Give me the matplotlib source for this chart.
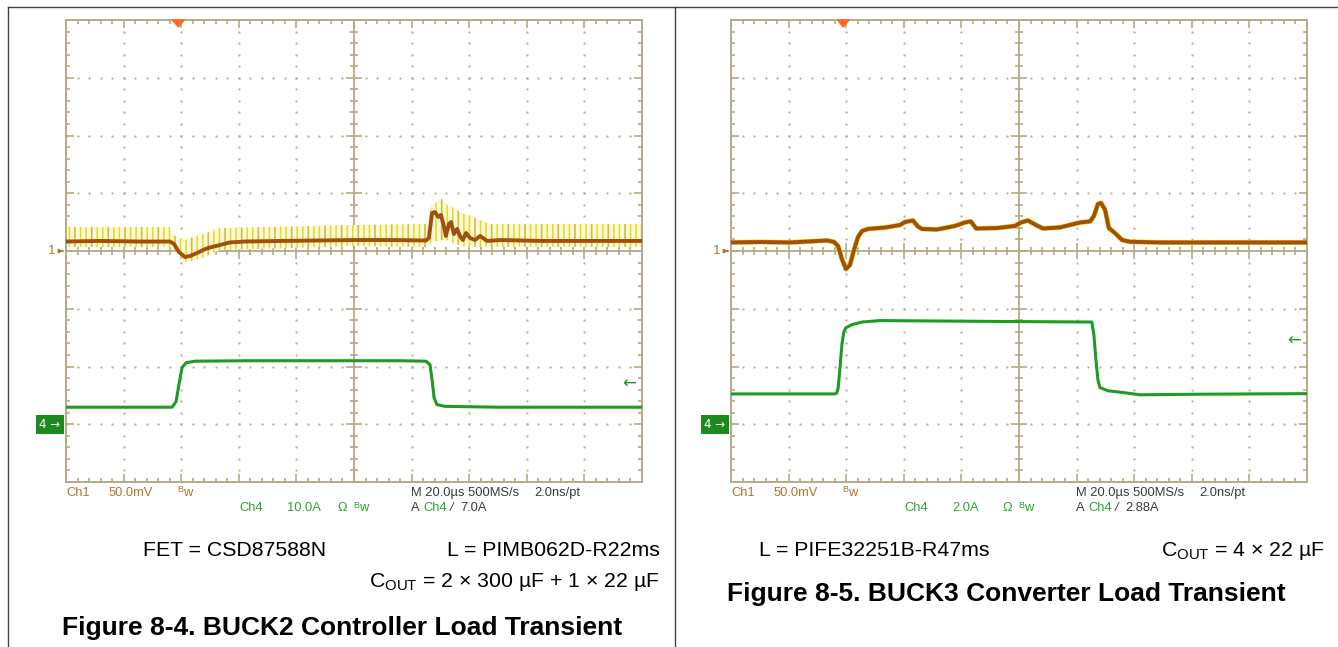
import matplotlib
matplotlib.use("Agg")
import matplotlib.pyplot as plt
from matplotlib.collections import LineCollection
from matplotlib.lines import Line2D
from matplotlib.patches import Polygon
import numpy as np

plt.rcParams['font.family'] = ['Liberation Sans', 'DejaVu Sans']
plt.rcParams['hatch.linewidth'] = 1.1

W, H = 1338, 647

# ---------------- data (time in µs from left screen edge, 20 µs/div) ----------------
# Figure 8-4, BUCK2: Ch1 output ripple (mV, relative to ch1 marker), Ch4 load current (A)
b2_ch1_t = [0, 11.8, 25.7, 36.1, 37.5, 39.2, 41.3, 43.1, 45.5, 48.3, 50.7, 53.5, 56.9,
            62.2, 74.3, 88.2, 100, 112.5, 125, 126, 127.1, 128.1, 129.2, 130.2, 131.2,
            131.9, 133, 133.7, 134.7, 135.8, 136.8, 137.8, 138.9, 140.3, 142, 143.8,
            146.2, 150.7, 164.6, 185.4, 200]
b2_ch1_mv = [8.2, 8.7, 8.2, 8.2, 6.1, -0.9, -5.2, -4.3, -1.7, 1.7, 3.5, 5.2, 7.4,
             8.2, 8.7, 9.1, 9.5, 9.5, 9.1, 11.3, 32.9, 33.8, 29.5, 31.2, 21.7,
             13.0, 23.4, 25.1, 14.7, 19.1, 13.0, 9.5, 15.6, 11.3, 9.5, 13.0,
             8.7, 9.5, 8.7, 8.7, 8.7]
# persistence (yellow) envelope of Ch1
b2_env_t = [0, 36.1, 37.8, 41.3, 46.5, 53.5, 100, 125, 127.1, 130.6, 132.3, 134,
            137.5, 142, 147.2, 200]
b2_env_hi = [20.8, 20.8, 13.0, 9.5, 13.9, 19.9, 22.5, 23.4, 39.9, 45.1, 39.9, 38.1,
             32.9, 28.6, 23.4, 23.4]
b2_env_lo = [3.5, 3.5, 0.9, -9.5, -6.9, 0.9, 4.3, 3.5, 7.8, 9.5, 9.5, 6.9,
             4.3, 3.5, 3.5, 3.5]
b2_ch4_t = [0, 36.8, 38.2, 39.2, 40.3, 41.7, 44.8, 63.9, 100, 116, 125, 126.4,
            127.1, 127.8, 128.8, 131.6, 150.7, 171.5, 200]
b2_ch4_a = [2.95, 2.95, 3.9, 6.85, 9.8, 10.66, 10.92, 11.0, 11.0, 11.0, 10.92, 10.3,
            7.7, 4.6, 3.4, 3.1, 2.95, 2.95, 2.95]

# Figure 8-5, BUCK3
b3_ch1_t = [0, 10.1, 20.5, 33.3, 35.8, 37.2, 38.5, 39.9, 41.3, 42.7, 44.1, 45.5,
            47.6, 53.8, 58.7, 60.4, 63.2, 64.9, 66.3, 71.5, 77.8, 81.2, 83.3, 85.1,
            92.4, 98.6, 100.7, 103.1, 105.9, 108.3, 114.2, 121.2, 124.7, 126, 127.4,
            128.5, 129.9, 131.2, 133.3, 135.8, 138.5, 148.9, 173.3, 200]
b3_ch1_mv = [7.4, 7.8, 7.4, 9.1, 7.8, 4.3, -6.9, -15.6, -12.1, 0.9, 12.1, 17.3,
             19.1, 20.4, 22.5, 25.1, 26.4, 21.2, 19.1, 18.6, 21.7, 24.7, 25.6, 19.5,
             19.9, 21.7, 24.7, 26.4, 22.5, 19.5, 20.4, 24.7, 25.6, 30.3, 40.7,
             41.6, 35.5, 19.9, 15.6, 9.5, 8.0, 7.4, 7.4, 7.4]
b3_ch4_t = [0, 36.0, 36.7, 37.2, 37.8, 38.5, 39.2, 39.9, 42.0, 45.5, 51.7, 93.4,
            125.3, 126.0, 126.7, 127.4, 128.1, 130.9, 136.8, 142.0, 162.8, 200]
b3_ch4_a = [1.05, 1.05, 1.08, 1.25, 1.89, 2.76, 3.21, 3.34, 3.45, 3.54, 3.59, 3.56,
            3.54, 3.10, 2.24, 1.54, 1.27, 1.16, 1.09, 1.02, 1.04, 1.06]

# scope settings text
b2_scale = {"ch1": "50.0mV", "ch4": "10.0A", "trig": "7.0A"}
b3_scale = {"ch1": "50.0mV", "ch4": "2.0A", "trig": "2.88A"}
b2_trig_level, b3_trig_level = 7.0, 2.88
trig_time = 39.0

b2_notes = ["FET = CSD87588N", "L = PIMB062D-R22ms",
            r"C$_\mathregular{OUT}$ = 2 × 300 µF + 1 × 22 µF",
            "Figure 8-4. BUCK2 Controller Load Transient"]
b3_notes = ["L = PIFE32251B-R47ms", r"C$_\mathregular{OUT}$ = 4 × 22 µF",
            "Figure 8-5. BUCK3 Converter Load Transient"]

# ---------------- styling ----------------
GRID = '#b3aa88'
CH1 = '#a0500c'
CH1TXT = '#b8702e'
YEL = '#e6dc14'
CH4 = '#1f9a22'
CH4TXT = '#2ea32e'
DARK = '#3a3a3a'
TRIG = '#ff6a22'

fig = plt.figure(figsize=(W / 100, H / 100), dpi=100)


def fx(px):
    return px / W


def fy(py):
    return 1 - py / H


def graticule(ax):
    ax.set_xlim(0, 200)
    ax.set_ylim(-4, 4)
    ax.set_xticks([])
    ax.set_yticks([])
    for s in ax.spines.values():
        s.set_color(GRID)
        s.set_linewidth(1.4)
    ys = [-4 + 0.2 * j for j in range(41)]
    xs = [4 * j for j in range(51)]
    for k in range(1, 10):
        if k == 5:
            continue
        ax.plot([20 * k] * len(ys), ys, ls='none', marker='s', ms=1.4, mew=0, color=GRID, zorder=1)
    for m in [-3, -2, -1, 1, 2, 3]:
        ax.plot(xs, [m] * len(xs), ls='none', marker='s', ms=1.4, mew=0, color=GRID, zorder=1)
    ax.axvline(100, color=GRID, lw=1.3, zorder=1)
    ax.axhline(0, color=GRID, lw=1.3, zorder=1)
    pxx = 20 / 57.6
    pxy = 1 / 57.7
    segs = []
    for j in range(1, 40):
        y = ys[j]
        major = j % 5 == 0
        L = (8 if major else 4) * pxx
        segs.append([(100 - L, y), (100 + L, y)])
        Le = (8 if major else 4) * pxx
        segs.append([(0, y), (Le, y)])
        segs.append([(200 - Le, y), (200, y)])
    for j in range(1, 50):
        x = xs[j]
        major = j % 5 == 0
        L = (8 if major else 4) * pxy
        segs.append([(x, -L), (x, L)])
        segs.append([(x, 4), (x, 4 - L)])
        segs.append([(x, -4), (x, -4 + L)])
    ax.add_collection(LineCollection(segs, colors=GRID, linewidths=1.2, zorder=1))
    # trigger position marker
    dx = 6 * pxx
    ax.add_patch(Polygon([(trig_time - dx, 4), (trig_time + dx, 4), (trig_time, 4 - 7 * pxy)],
                         closed=True, color=TRIG, clip_on=False, zorder=5))


def scope_text(x0, sc):
    # x0 = left pixel of the graticule
    r1, r2 = 493, 508
    fs = 9.3
    fig.text(fx(x0 + 0), fy(r1), "Ch1", color=CH1TXT, fontsize=fs, va='center')
    fig.text(fx(x0 + 43), fy(r1), sc["ch1"], color=CH1TXT, fontsize=fs, va='center')
    fig.text(fx(x0 + 111), fy(r1 - 3), "B", color=CH1TXT, fontsize=6.5, va='center')
    fig.text(fx(x0 + 117), fy(r1), "w", color=CH1TXT, fontsize=fs, va='center')
    fig.text(fx(x0 + 173), fy(r2), "Ch4", color=CH4TXT, fontsize=fs, va='center')
    fig.text(fx(x0 + 221), fy(r2), sc["ch4"], color=CH4TXT, fontsize=fs, va='center')
    fig.text(fx(x0 + 271), fy(r2), "Ω", color=CH4TXT, fontsize=fs, va='center')
    fig.text(fx(x0 + 287), fy(r2 - 3), "B", color=CH4TXT, fontsize=6.5, va='center')
    fig.text(fx(x0 + 293), fy(r2), "w", color=CH4TXT, fontsize=fs, va='center')
    fig.text(fx(x0 + 345), fy(r1), "M 20.0µs 500MS/s", color=DARK, fontsize=fs, va='center')
    fig.text(fx(x0 + 468), fy(r1), "2.0ns/pt", color=DARK, fontsize=fs, va='center')
    fig.text(fx(x0 + 345), fy(r2), "A", color=DARK, fontsize=fs, va='center')
    fig.text(fx(x0 + 357), fy(r2), "Ch4", color=CH4TXT, fontsize=fs, va='center')
    fig.text(fx(x0 + 384), fy(r2), "/", color=DARK, fontsize=fs, va='center', style='italic')
    fig.text(fx(x0 + 394), fy(r2), sc["trig"], color=DARK, fontsize=fs, va='center')


def markers(ax, x0, ch4_scale, trig_level):
    # channel ground markers
    fig.text(fx(x0 - 14), fy(251), "1", color=CH1TXT, fontsize=9.5, va='center', ha='center')
    ax.annotate('', xy=(0, 0), xytext=(-6 * 20 / 57.6, 0),
                arrowprops=dict(arrowstyle='-|>', color=CH1TXT, lw=1, mutation_scale=6),
                annotation_clip=False)
    fig.text(fx(x0 - 16), fy(424.5), "4 →", color='white', fontsize=8.5, va='center', ha='center',
             family=['DejaVu Sans'],
             bbox=dict(boxstyle='square,pad=0.25', fc='#1d8a1d', ec='none'))
    # trigger level arrow
    y = trig_level / ch4_scale - 3
    ax.text(198, y, "←", color=CH4, fontsize=12, va='center', ha='right', family=['DejaVu Sans'])


# ---------------- left panel ----------------
axL = fig.add_axes([fx(66), fy(482), 576 / W, 462 / H])
graticule(axL)
env_hi = np.array(b2_env_hi) / 50
env_lo = np.array(b2_env_lo) / 50
axL.fill_between(b2_env_t, env_lo, env_hi, facecolor='#fbf8dc', edgecolor=YEL, hatch='|||',
                 lw=0, zorder=2)
axL.fill_between(b2_env_t, env_lo, env_hi, facecolor='none', edgecolor='#c8a060', hatch='|',
                 lw=0, zorder=2, alpha=0.55)
axL.plot(b2_ch1_t, np.array(b2_ch1_mv) / 50, color=CH1, lw=2.8, zorder=3)
axL.plot(b2_ch4_t, np.array(b2_ch4_a) / 10 - 3, color=CH4, lw=2.2, zorder=3)
markers(axL, 66, 10, b2_trig_level)
scope_text(66, b2_scale)

# ---------------- right panel ----------------
axR = fig.add_axes([fx(731), fy(482), 576 / W, 462 / H])
graticule(axR)
axR.plot(b3_ch1_t, np.array(b3_ch1_mv) / 50, color=YEL, lw=3.6, zorder=2)
axR.plot(b3_ch1_t, np.array(b3_ch1_mv) / 50, color=CH1, lw=2.8, zorder=3)
axR.plot(b3_ch4_t, np.array(b3_ch4_a) / 2 - 3, color=CH4, lw=2.2, zorder=3)
markers(axR, 731, 2, b3_trig_level)
scope_text(731, b3_scale)

# ---------------- captions ----------------
fs_c = 15.3
fig.text(fx(143), fy(551), b2_notes[0], fontsize=fs_c, va='center', color='black')
fig.text(fx(660), fy(551), b2_notes[1], fontsize=fs_c, va='center', ha='right', color='black')
fig.text(fx(660), fy(582), b2_notes[2], fontsize=fs_c, va='center', ha='right', color='black')
fig.text(fx(342), fy(628), b2_notes[3], fontsize=19, va='center', ha='center',
         fontweight='bold', color='black')
fig.text(fx(759), fy(551), b3_notes[0], fontsize=fs_c, va='center', color='black')
fig.text(fx(1325), fy(551), b3_notes[1], fontsize=fs_c, va='center', ha='right', color='black')
fig.text(fx(1006), fy(594), b3_notes[2], fontsize=19, va='center', ha='center',
         fontweight='bold', color='black')

# ---------------- page frame lines ----------------
for xs_, ys_ in [([8, 8], [7, H]), ([8, W], [7, 7]), ([675, 675], [7, H])]:
    fig.add_artist(Line2D([fx(v) for v in xs_], [fy(v) for v in ys_], color='#444444', lw=1.0))

fig.savefig("out.png", dpi=100)
